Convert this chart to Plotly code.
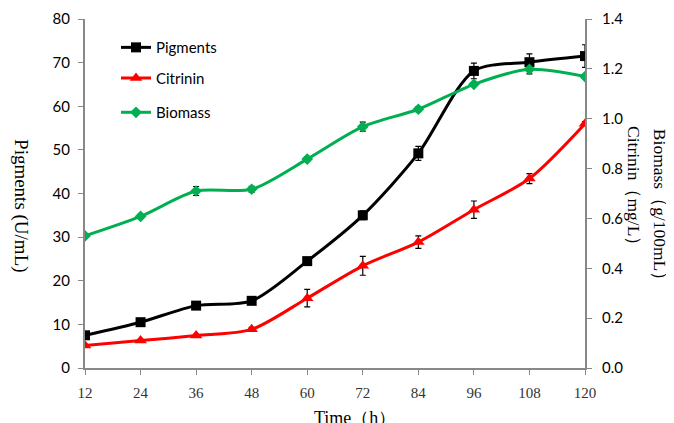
import plotly.graph_objects as go

time_h = [12, 24, 36, 48, 60, 72, 84, 96, 108, 120]
pigments = [7.5, 10.5, 14.3, 15.4, 24.5, 35.0, 49.2, 68.1, 70.1, 71.5]
pigments_err = [0.5, 0.5, 0.6, 0.6, 0.6, 1.0, 1.6, 1.8, 1.9, 2.6]
citrinin = [0.09, 0.11, 0.13, 0.155, 0.28, 0.41, 0.505, 0.635, 0.76, 0.98]
citrinin_err = [0.005, 0.005, 0.005, 0.008, 0.035, 0.038, 0.025, 0.035, 0.02, 0.008]
biomass = [0.53, 0.608, 0.71, 0.717, 0.838, 0.968, 1.038, 1.138, 1.198, 1.169]
biomass_err = [0.006, 0.008, 0.018, 0.012, 0.008, 0.018, 0.01, 0.008, 0.018, 0.008]
x_ticks = [12, 24, 36, 48, 60, 72, 84, 96, 108, 120]

sans = "Lato, 'Open Sans', sans-serif"
serif = "'Liberation Serif', 'Times New Roman', serif"

fig = go.Figure()
fig.add_trace(go.Scatter(
    x=time_h, y=pigments, name="Pigments", mode="lines+markers", legend="legend",
    line=dict(color="black", width=3, shape="spline", smoothing=0.8),
    marker=dict(symbol="square", size=10, color="black"),
    error_y=dict(type="data", array=pigments_err, color="black", thickness=1.2, width=3),
))
fig.add_trace(go.Scatter(
    x=time_h, y=citrinin, name="Citrinin", mode="lines+markers", yaxis="y2", legend="legend2",
    line=dict(color="#ff0000", width=3, shape="spline", smoothing=0.8),
    marker=dict(symbol="triangle-up", size=11, color="#ff0000"),
    error_y=dict(type="data", array=citrinin_err, color="black", thickness=1.2, width=3),
))
fig.add_trace(go.Scatter(
    x=time_h, y=biomass, name="Biomass", mode="lines+markers", yaxis="y2", legend="legend3",
    line=dict(color="#00b050", width=3, shape="spline", smoothing=0.8),
    marker=dict(symbol="diamond", size=9, color="#00b050"),
    error_y=dict(type="data", array=biomass_err, color="black", thickness=1.2, width=3),
))

axis_line = dict(showline=True, linecolor="#888888", linewidth=2, ticks="outside",
                 ticklen=5, tickcolor="#888888", showgrid=False, zeroline=False,
                 automargin=False)

def leg(y):
    return dict(x=0.062, y=y, xanchor="left", yanchor="middle",
                font=dict(family=sans, size=15, color="black"),
                bgcolor="rgba(0,0,0,0)", itemwidth=30)

fig.update_layout(
    width=674, height=423,
    paper_bgcolor="white", plot_bgcolor="white",
    margin=dict(l=77, r=97, t=11, b=63, autoexpand=False),
    showlegend=True,
    legend=leg(0.918), legend2=leg(0.830), legend3=leg(0.732),
    xaxis=dict(range=[12, 120], tickvals=x_ticks, **axis_line, ticklabelstandoff=5,
               tickfont=dict(family=serif, size=15, color="#333333")),
    yaxis=dict(range=[0, 80], dtick=10, **axis_line, ticklabelstandoff=5,
               tickfont=dict(family=sans, size=15, color="black")),
    yaxis2=dict(range=[0, 1.4], dtick=0.2, tickformat=".1f", overlaying="y", side="right",
                **axis_line, ticklabelstandoff=7,
                tickfont=dict(family=sans, size=15, color="black")),
    annotations=[
        dict(text="Pigments (U/mL)", xref="paper", yref="paper", x=-0.128, y=0.464,
             xanchor="center", yanchor="middle",
             textangle=90, showarrow=False, font=dict(family=serif, size=19, color="black")),
        dict(text="Biomass（g/100mL）", xref="paper", yref="paper",
             x=1.150, y=0.456, xanchor="center", yanchor="middle", textangle=90, showarrow=False,
             font=dict(family=serif, size=17.5, color="black")),
        dict(text="Citrinin（mg/L）", xref="paper", yref="paper",
             x=1.098, y=0.51, xanchor="center", yanchor="middle", textangle=90, showarrow=False,
             font=dict(family=serif, size=17.5, color="black")),
        dict(text="Time（h）", xref="paper", yref="paper", x=0.54, y=-0.142,
             xanchor="center", yanchor="middle", showarrow=False,
             font=dict(family=serif, size=18, color="black")),
    ],
)

fig.write_html("out.html")
